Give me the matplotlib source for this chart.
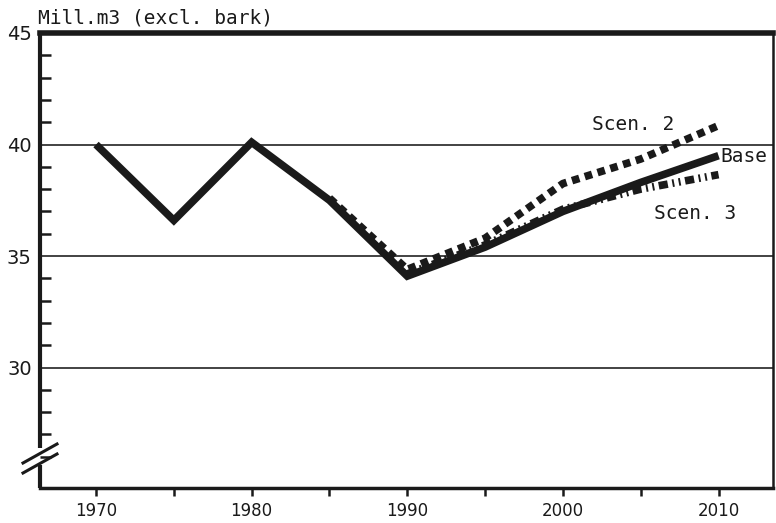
import numpy as np
import matplotlib.pyplot as plt
from matplotlib.ticker import MultipleLocator

# Removals, mill. m3 excl. bark
years = [1970, 1975, 1980, 1985, 1990, 1995, 2000, 2005, 2010]
base = [40.0, 36.6, 40.1, 37.5, 34.1, 35.4, 37.0, 38.3, 39.5]

scen2_years = [1985, 1990, 1995, 2000, 2005, 2010]
scen2 = [37.6, 34.4, 35.8, 38.25, 39.35, 40.85]

scen3_years = [1990, 1995, 2000, 2005, 2010]
scen3 = [34.2, 35.5, 37.1, 38.0, 38.65]

ytick_vals = [30, 35, 40, 45]
xtick_vals = [1970, 1980, 1990, 2000, 2010]

fig = plt.figure(figsize=(7.76, 5.23), dpi=100)
ax = fig.add_axes([40 / 776, 35 / 523, 733 / 776, 455 / 523])

ax.set_xlim(1966.4, 2013.5)
ax.set_ylim(24.6, 45)

# horizontal reference lines
for v in ytick_vals[:-1]:
    ax.axhline(v, color='#222222', lw=1.2, zorder=1)

ax.plot(years, base, color='#1a1a1a', lw=5.5, solid_joinstyle='miter',
        solid_capstyle='butt', zorder=4)
ax.plot(scen2_years, scen2, color='#1a1a1a', lw=5.5,
        linestyle=(0, (1, 0.75)), dash_capstyle='butt', zorder=3)
ax.plot(scen3_years, scen3, color='#1a1a1a', lw=5.5,
        linestyle=(0, (1.2, 0.6, 0.25, 0.6, 0.25, 0.6)),
        dash_capstyle='butt', zorder=3)

txt = dict(family='DejaVu Sans Mono', fontsize=14, color='#1a1a1a')
ax.text(2004.5, 40.9, 'Scen. 2', ha='center', va='center', **txt)
ax.text(2010.1, 39.45, 'Base', ha='left', va='center', **txt)
ax.text(2008.5, 36.9, 'Scen. 3', ha='center', va='center', **txt)

# spines
ax.spines['top'].set_linewidth(4)
ax.spines['bottom'].set_linewidth(2.5)
ax.spines['right'].set_linewidth(1.8)
ax.spines['left'].set_visible(False)
for s in ax.spines.values():
    s.set_color('#1a1a1a')

# left axis drawn by hand so it can carry a break
gap_lo, gap_hi = (465 - 33) / 455, (448 - 33) / 455
ax.plot([0, 0], [0, 1 - gap_lo], transform=ax.transAxes, color='#1a1a1a',
        lw=3, clip_on=False, solid_capstyle='butt')
ax.plot([0, 0], [1 - gap_hi, 1], transform=ax.transAxes, color='#1a1a1a',
        lw=3, clip_on=False, solid_capstyle='butt')
for dy in (0, -10):
    xa = (np.array([23, 57]) - 40) / 733
    ya = 1 - (np.array([463, 444]) - dy - 33) / 455
    ax.plot(xa, ya, transform=ax.transAxes, color='#1a1a1a', lw=2.2,
            clip_on=False)

ax.set_yticks(ytick_vals)
ax.set_yticklabels([str(v) for v in ytick_vals], fontsize=14,
                   family='DejaVu Sans', color='#1a1a1a')
ax.tick_params(axis='y', which='major', length=0, pad=6)
ax.tick_params(axis='y', which='minor', direction='in', length=8,
               width=1.8, color='#1a1a1a')
ax.set_yticks([v for v in range(26, 45) if v % 5 != 0], minor=True)

ax.set_xticks(xtick_vals)
ax.set_xticklabels([str(v) for v in xtick_vals], fontsize=12,
                   family='DejaVu Sans', color='#1a1a1a')
ax.set_xticks([1975, 1985, 1995, 2005], minor=True)
ax.tick_params(axis='x', which='both', direction='out', length=6,
               width=1.8, color='#1a1a1a', pad=4)

fig.text(38 / 776, 1 - 23 / 523, 'Mill.m3 (excl. bark)',
         family='DejaVu Sans Mono', fontsize=14, color='#1a1a1a',
         ha='left', va='baseline')

fig.savefig('out.png', dpi=100)
